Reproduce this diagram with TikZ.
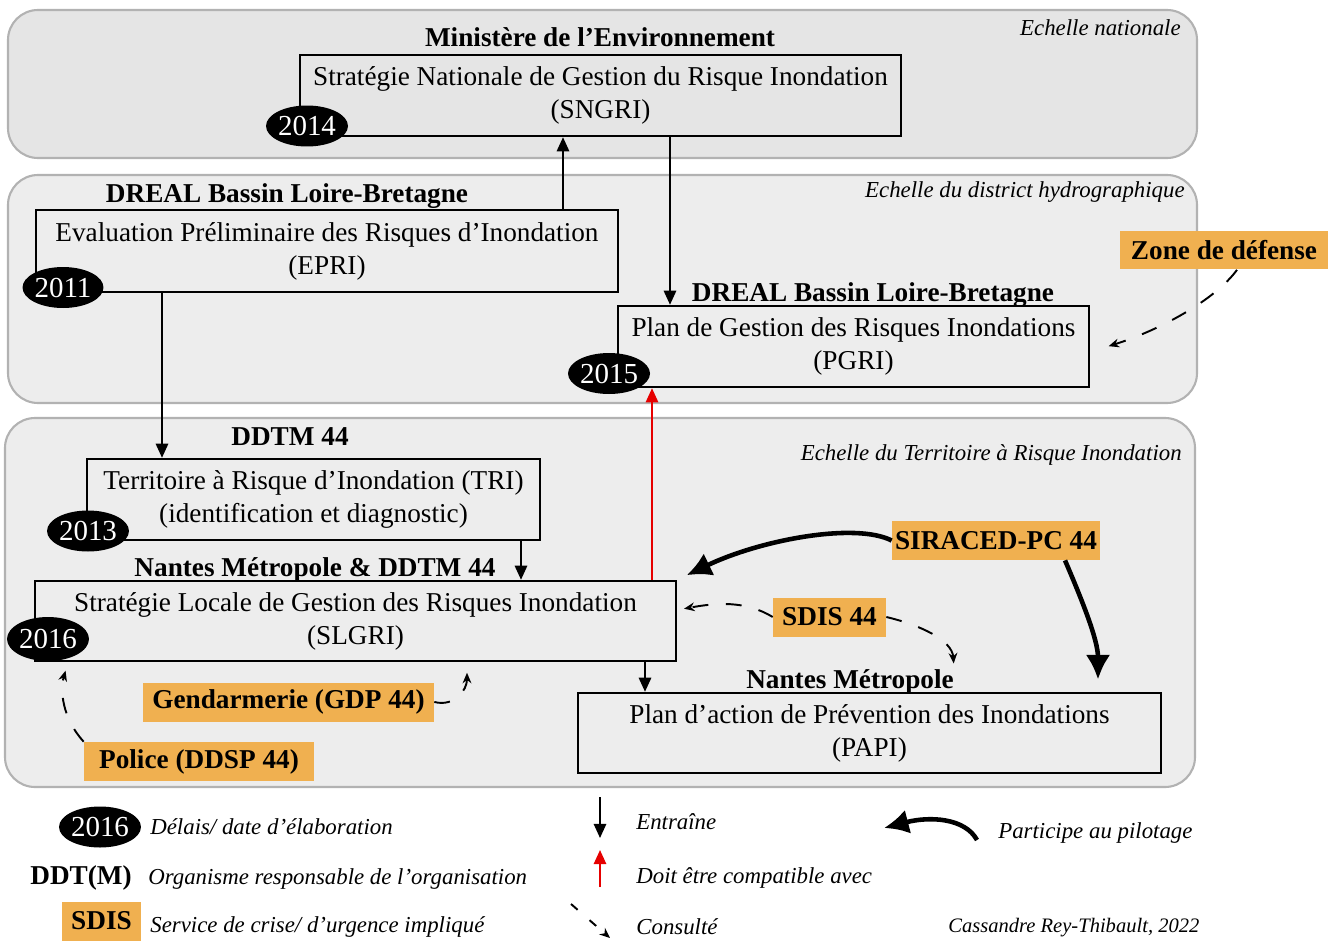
\documentclass[tikz,border=0pt]{standalone}
\usepackage{fontspec}
\setmainfont{Liberation Serif}
\usetikzlibrary{positioning,shapes.geometric,arrows.meta}

\definecolor{crisis}{RGB}{240,176,80}
\definecolor{natfill}{RGB}{229,229,229}
\definecolor{distfill}{RGB}{237,237,237}
\definecolor{frame}{RGB}{178,178,178}
\definecolor{compatred}{RGB}{230,0,0}

\begin{document}
\begin{tikzpicture}
  [x=0.02cm,y=-0.02cm,
   every node/.style={font=\fontsize{15.5}{18.8}\selectfont},
   panel/.style={draw=frame,line width=1.2pt,rounded corners=0.6cm},
   doc/.style={draw=black,line width=1.4pt,align=center,inner sep=0pt},
   datum/.style={ellipse,fill=black,text=white,inner sep=0pt,minimum width=1.62cm,minimum height=0.82cm,font=\fontsize{16.5}{18}\selectfont},
   actor/.style={anchor=base,inner sep=0pt,font=\fontsize{15.5}{18}\selectfont\bfseries},
   crise/.style={fill=crisis,inner sep=0pt,minimum height=0.78cm,font=\fontsize{15.5}{18}\selectfont\bfseries},
   echelle/.style={anchor=east,inner sep=0pt,font=\fontsize{13}{15}\selectfont\itshape},
   legende/.style={anchor=west,inner sep=0pt,font=\fontsize{13}{15}\selectfont\itshape},
   entraine/.style={-{Triangle[length=8pt,width=7pt]},line width=1.1pt},
   compat/.style={entraine,draw=compatred,fill=compatred},
   consulte/.style={-{Stealth[length=6pt,width=5pt]},line width=1.1pt,dash pattern=on 9pt off 10pt},
   pilote/.style={-{Latex[length=14pt,width=14pt]},line width=2.6pt}]

  \useasboundingbox (0,0) rectangle (1342,943);

  % echelles
  \draw[panel,fill=natfill] (8,10) rectangle (1197,158);
  \draw[panel,fill=distfill] (8,175) rectangle (1197,403);
  \draw[panel,fill=distfill] (5,418) rectangle (1195,787);
  \node[echelle] (enat) at (1181,28) {Echelle nationale};
  \node[echelle] (edist) at (1185,192) {Echelle du district hydrographique};
  \node[echelle] (etri) at (1182,455) {Echelle du Territoire à Risque Inondation};

  % documents
  \node[doc,minimum width=12.02cm,minimum height=1.62cm] (sngri) at (600.5,95.5) {Stratégie Nationale de Gestion du Risque Inondation\\(SNGRI)};
  \node[doc,minimum width=11.64cm,minimum height=1.64cm] (epri) at (327,251) {Evaluation Préliminaire des Risques d’Inondation\\(EPRI)};
  \node[doc,minimum width=9.42cm,minimum height=1.62cm] (pgri) at (853.5,346.5) {Plan de Gestion des Risques Inondations\\(PGRI)};
  \node[doc,minimum width=9.06cm,minimum height=1.62cm] (tri) at (313.5,499.5) {Territoire à Risque d’Inondation (TRI)\\(identification et diagnostic)};
  \node[doc,minimum width=12.82cm,minimum height=1.6cm] (slgri) at (355.5,621) {Stratégie Locale de Gestion des Risques Inondation\\(SLGRI)};
  \node[doc,minimum width=11.66cm,minimum height=1.6cm] (papi) at (869.5,733) {Plan d’action de Prévention des Inondations\\(PAPI)};

  \node[actor] (minenv) at (600,46) {Ministère de l’Environnement};
  \node[actor] (dreal1) at (287,202) {DREAL Bassin Loire-Bretagne};
  \node[actor] (dreal2) at (873,301) {DREAL Bassin Loire-Bretagne};
  \node[actor] (ddtm) at (290,445) {DDTM 44};
  \node[actor] (nmddtm) at (315,576) {Nantes Métropole \& DDTM 44};
  \node[actor] (nantes) at (850,688) {Nantes Métropole};

  \node[datum] (d2014) at (307,126) {2014};
  \node[datum] (d2011) at (63,287.5) {2011};
  \node[datum] (d2015) at (609,373.5) {2015};
  \node[datum] (d2013) at (88,531) {2013};
  \node[datum,minimum height=0.88cm] (d2016) at (48,639) {2016};

  % services de crise
  \node[crise,minimum width=4.16cm] (zone) at (1224,250) {Zone de défense};
  \node[crise,minimum width=4.16cm] (siraced) at (996,540.5) {SIRACED-PC 44};
  \node[crise,minimum width=2.26cm] (sdis) at (829.5,617) {SDIS 44};
  \node[crise,minimum width=5.82cm] (gdp) at (288.5,702) {Gendarmerie (GDP 44)};
  \node[crise,minimum width=4.6cm] (police) at (199,761.5) {Police (DDSP 44)};

  \draw[entraine] (epri.north -| 563,0) -- (sngri.south -| 563,0);
  \draw[entraine] (sngri.south -| 670,0) -- (pgri.north -| 670,0);
  \draw[entraine] (epri.south -| 162,0) -- (tri.north -| 162,0);
  \draw[entraine] (tri.south -| 521,0) -- (slgri.north -| 521,0);
  \draw[compat] (slgri.north -| 652,0) -- (pgri.south -| 652,0);
  \draw[entraine] (slgri.south -| 645,0) -- (papi.north -| 645,0);

  \draw[consulte,shorten >=11pt] (zone.south -| 1237,0) .. controls (1215,300) and (1160,330) .. (pgri.east |- 0,352);
  \draw[consulte,shorten >=4pt] (sdis.west) .. controls (745,600) and (715,603) .. (slgri.east |- 0,610);
  \draw[consulte,shorten >=3pt] (sdis.east) .. controls (920,625) and (952,640) .. (nantes.north east);
  \draw[consulte,shorten >=6pt] (gdp.east) .. controls (455,707) and (467,690) .. (slgri.south -| 467,0);
  \draw[consulte,shorten >=5pt] (police.north west) .. controls (62,718) and (60,690) .. (slgri.south -| 68,0);
  \draw[pilote,shorten >=6pt] (siraced.west) .. controls (855,522) and (760,540) .. (slgri.north east);
  \draw[pilote,shorten >=7pt] (siraced.south -| 1065,0) .. controls (1082,600) and (1098,640) .. (papi.north -| 1098,0);

  % legende
  \node[datum] (ld2016) at (100,827) {2016};
  \node[legende] (ldelai) at (150,827) {Délais/ date d’élaboration};
  \node[anchor=west,inner sep=0pt,font=\fontsize{15.5}{18}\selectfont\bfseries] (lddt) at (30,878) {DDT(M)};
  \node[legende] (lorga) at (148,879) {Organisme responsable de l’organisation};
  \node[crise,minimum width=1.58cm] (lsdis) at (101.5,921) {SDIS};
  \node[legende] (lcrise) at (150,927) {Service de crise/ d’urgence impliqué};

  \draw[entraine] (600,797) -- (600,838);
  \node[legende] (lentraine) at (636,822) {Entraîne};
  \draw[compat] (600,887) -- (600,850);
  \node[legende] (lcompat) at (636,878) {Doit être compatible avec};
  \draw[consulte,dash pattern=on 5pt off 9pt] (571,904) -- (610,938);
  \node[legende] (lconsulte) at (636,927) {Consulté};
  \draw[pilote] (977,840) .. controls (965,818) and (930,816) .. (884,828);
  \node[legende] (lpilote) at (998,833) {Participe au pilotage};
  \node[legende,font=\fontsize{11.7}{14}\selectfont\itshape] (auteur) at (948,928) {Cassandre Rey-Thibault, 2022};
\end{tikzpicture}
\end{document}
